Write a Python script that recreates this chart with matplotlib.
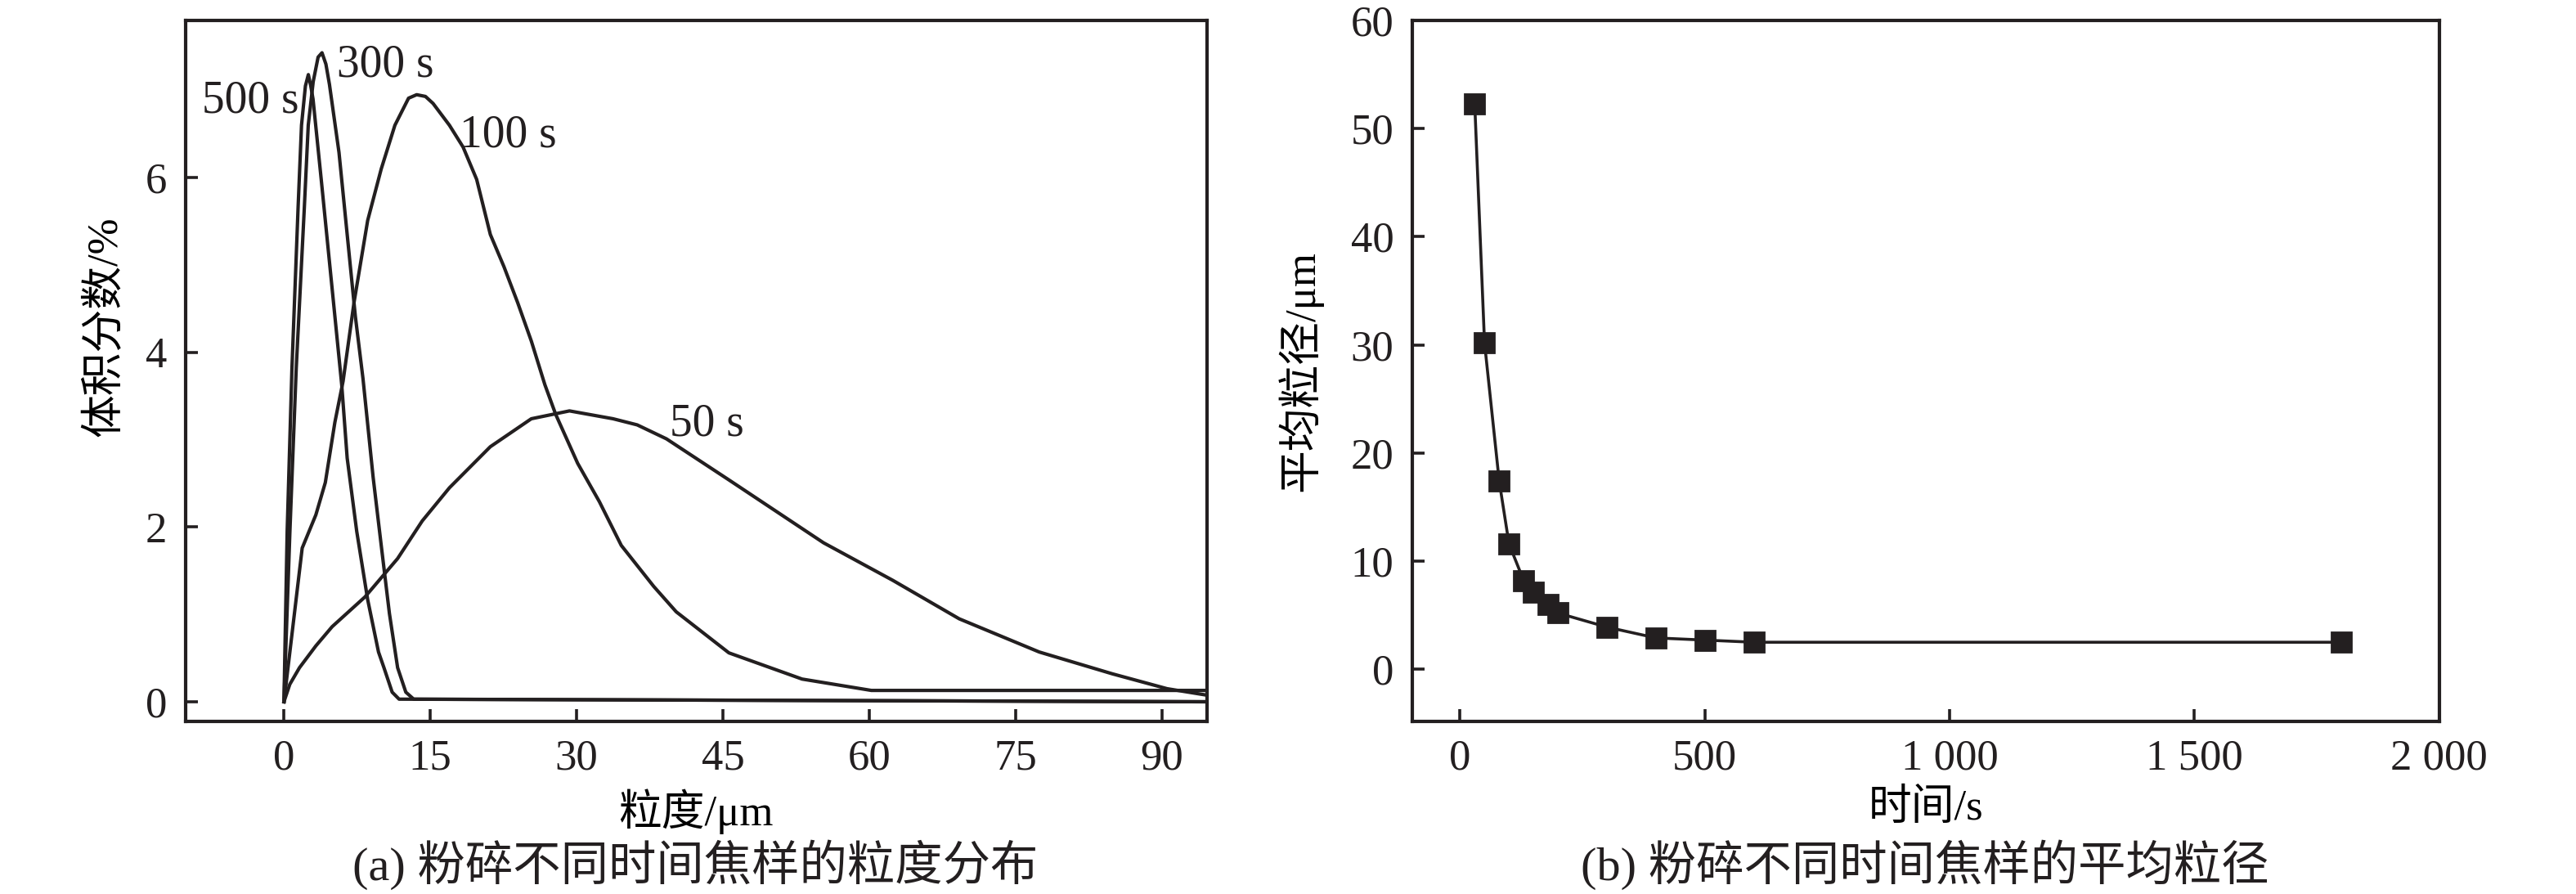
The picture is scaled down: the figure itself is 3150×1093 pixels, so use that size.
import matplotlib
matplotlib.use('Agg')
import matplotlib.pyplot as plt

ink = '#231f20'
fonts = ['Liberation Serif', 'Noto Sans CJK SC', 'DejaVu Sans']
plt.rcParams['font.family'] = fonts
plt.rcParams['axes.linewidth'] = 1.5
plt.rcParams['text.color'] = ink

# (a) particle size distribution, x = size / um, y = volume fraction / %
x_500 = [0, 0.33, 0.82, 1.45, 1.8, 2.2, 2.5, 2.75, 2.98, 3.82, 4.66, 5.5, 5.92, 6.48,
         7.46, 8.58, 9.69, 10.25, 11.09, 11.8, 95]
y_500 = [0, 1.95, 3.82, 5.66, 6.6, 7.05, 7.18, 7.05, 6.9, 5.98, 5.04, 4.1, 3.63, 2.79,
         1.95, 1.17, 0.57, 0.39, 0.11, 0.03, 0.0]

x_300 = [0, 0.61, 1.26, 2.09, 2.49, 3.0, 3.5, 3.9, 4.3, 4.66, 5.64, 6.48, 7.32, 8.1,
         9.14, 9.97, 10.81, 11.65, 12.49, 13.3, 95]
y_300 = [0, 1.95, 3.82, 5.66, 6.6, 7.1, 7.38, 7.43, 7.3, 7.07, 6.29, 5.35, 4.41, 3.7,
         2.57, 1.79, 1.01, 0.39, 0.11, 0.03, 0.0]

x_100 = [0, 1.87, 3.27, 4.24, 5.22, 6.06, 7.18, 8.58, 9.97, 11.37, 12.77, 13.6, 14.5,
         15.28, 16.96, 18.36, 19.75, 21.15, 22.55, 23.95, 25.35, 26.74, 27.85, 30.1,
         32.33, 34.57, 37.9, 40.2, 45.6, 53.1, 60.2, 95]
y_100 = [0, 1.76, 2.14, 2.51, 3.2, 3.67, 4.57, 5.51, 6.1, 6.6, 6.91, 6.95, 6.93,
         6.85, 6.6, 6.35, 5.98, 5.35, 4.98, 4.57, 4.13, 3.63, 3.29, 2.73,
         2.29, 1.79, 1.32, 1.03, 0.56, 0.26, 0.13, 0.13]

x_50 = [0, 0.6, 1.59, 3.27, 4.94, 8.3, 11.65, 14.17, 16.96, 21.15, 25.35, 29.26, 33.73,
        36.2, 39.2, 45.6, 55.3, 62.4, 69.2, 77.4, 84.9, 90.5, 94.9]
y_50 = [0, 0.2, 0.39, 0.64, 0.86, 1.2, 1.64, 2.07, 2.45, 2.92, 3.24, 3.33, 3.24,
        3.17, 3.01, 2.54, 1.82, 1.39, 0.95, 0.57, 0.32, 0.15, 0.07]

curve_labels = ['500 s', '300 s', '100 s', '50 s']
label_x = [-8.4, 5.47, 17.96, 39.5]
label_y = [6.75, 7.16, 6.35, 3.05]

# (b) mean particle size vs grinding time
time_s = [30, 50, 80, 100, 130, 150, 180, 200, 300, 400, 500, 600, 1800]
mean_size = [52.3, 30.2, 17.4, 11.6, 8.2, 7.1, 6.0, 5.2, 3.9, 2.9, 2.7, 2.5, 2.5]
time_ticks = [0, 500, 1000, 1500, 2000]
time_tick_labels = ['0', '500', '1 000', '1 500', '2 000']


def style_axes(ax):
    ax.tick_params(direction='in', length=5.4, width=1.3, labelsize=19,
                   pad=8, top=False, right=False, colors=ink)
    for lbl in ax.get_xticklabels() + ax.get_yticklabels():
        lbl.set_fontfamily(fonts)
    for spine in ax.spines.values():
        spine.set_color(ink)


fig = plt.figure(figsize=(15.75, 5.465), dpi=200)

ax1 = fig.add_axes([0.07197, 0.19332, 0.39660, 0.78381])
for xs, ys in [(x_500, y_500), (x_300, y_300), (x_100, y_100), (x_50, y_50)]:
    ax1.plot(xs, ys, color=ink, lw=1.5, solid_joinstyle='round')
for txt, lx, ly in zip(curve_labels, label_x, label_y):
    ax1.text(lx, ly, txt, fontsize=20, ha='left', va='baseline', color=ink)
ax1.set_xlim(-10.1, 94.6)
ax1.set_ylim(-0.222, 7.8)
ax1.set_xticks([0, 15, 30, 45, 60, 75, 90])
ax1.set_yticks([0, 2, 4, 6])
style_axes(ax1)
ax1.set_xlabel('粒度/μm', fontsize=19)
ax1.xaxis.set_label_coords(0.5, -0.097)
ax1.set_ylabel('体积分数/%', fontsize=19)
ax1.yaxis.set_label_coords(-0.059, 0.563)

ax2 = fig.add_axes([0.54816, 0.19332, 0.39873, 0.78381])
ax2.plot(time_s, mean_size, color=ink, lw=1.3, marker='s', markersize=8.5,
         markerfacecolor=ink, markeredgecolor=ink)
ax2.set_xlim(-98, 2000)
ax2.set_ylim(-4.8, 60)
ax2.set_xticks(time_ticks)
ax2.set_xticklabels(time_tick_labels)
ax2.set_yticks(range(0, 61, 10))
style_axes(ax2)
ax2.set_xlabel('时间/s', fontsize=19)
ax2.xaxis.set_label_coords(0.5, -0.097)
ax2.set_ylabel('平均粒径/μm', fontsize=19)
ax2.yaxis.set_label_coords(-0.087, 0.5)

fig.text(0.2698, 0.033, '(a) 粉碎不同时间焦样的粒度分布', fontsize=21,
         ha='center', va='center')
fig.text(0.7471, 0.033, '(b) 粉碎不同时间焦样的平均粒径', fontsize=21,
         ha='center', va='center')

plt.savefig('out.png', dpi=200, facecolor='white')
plt.close()
